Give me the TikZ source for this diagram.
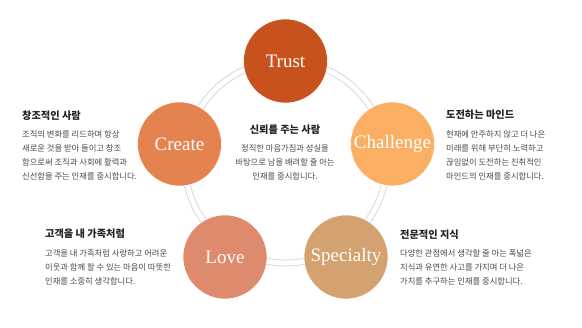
\documentclass[tikz,border=0pt]{standalone}
\usepackage{fontspec}
\usepackage{tikz}
\setmainfont{Liberation Serif}
\newfontfamily\kor{Noto Sans CJK KR}
\definecolor{ring}{RGB}{218, 218, 218}
\definecolor{trust}{RGB}{200, 82, 30}
\definecolor{create}{RGB}{228, 130, 80}
\definecolor{challenge}{RGB}{251, 175, 100}
\definecolor{love}{RGB}{221, 139, 108}
\definecolor{special}{RGB}{212, 162, 112}
\definecolor{head}{RGB}{34, 34, 34}
\definecolor{body}{RGB}{72, 72, 72}

\begin{document}
\begin{tikzpicture}[x=1pt, y=-1pt,
   valcirc/.style={circle, draw=white, line width=0.6, text=white,
                   inner sep=0, minimum size=84, font=\fontsize{19}{20}\selectfont},
   headtxt/.style={text=head, inner sep=0, font=\kor\bfseries\fontsize{10.2}{12}\selectfont},
   bodytxt/.style={text=body, inner sep=0, align=left, font=\kor\fontsize{8.3}{14}\selectfont}
  ]
  \useasboundingbox (0, 0) rectangle (582, 328);

  % rings behind the values
  \coordinate (M) at (285.7, 162);
  \foreach \R in {98, 104} {
    \draw[ring, line width=0.9] (M) circle (\R);
  }

  \node (V1) at (285.5, 61) [valcirc, fill=trust] {Trust};
  \node (V2) at (179.5, 144) [valcirc, fill=create] {Create};
  \node (V3) at (392.5, 144) [valcirc, fill=challenge] {Challenge};
  \node (V4) at (225, 257) [valcirc, fill=love] {Love};
  \node (V5) at (346, 257) [valcirc, fill=special] {Specialty};

  % texts
  \node (H1) at (22, 116) [headtxt, anchor=west] {창조적인 사람};
  \node (T1) at (22, 130) [bodytxt, anchor=north west]
    {조직의 변화를 리드하며 항상\\새로운 것을 받아 들이고 창조\\함으로써 조직과 사회에 활력과\\신선함을 주는 인재를 중시합니다.};

  \node (H2) at (446, 115) [headtxt, anchor=west] {도전하는 마인드};
  \node (T2) at (446, 130) [bodytxt, anchor=north west]
    {현재에 안주하지 않고 더 나은\\미래를 위해 부단히 노력하고\\끊임없이 도전하는 진취적인\\마인드의 인재를 중시합니다.};

  \node (H3) at (45, 234) [headtxt, anchor=west] {고객을 내 가족처럼};
  \node (T3) at (45, 249) [bodytxt, anchor=north west]
    {고객을 내 가족처럼 사랑하고 어려운\\이웃과 함께 할 수 있는 마음이 따뜻한\\인재를 소중히 생각합니다.};

  \node (H4) at (400, 235) [headtxt, anchor=west] {전문적인 지식};
  \node (T4) at (400, 249) [bodytxt, anchor=north west]
    {다양한 관점에서 생각할 줄 아는 폭넓은\\지식과 유연한 사고를 가지며 더 나은\\가치를 추구하는 인재를 중시합니다.};

  \node (H5) at (285, 130) [headtxt] {신뢰를 주는 사람};
  \node (T5) at (285, 144) [bodytxt, align=center, anchor=north]
    {정직한 마음가짐과 성실을\\바탕으로 남을 배려할 줄 아는\\인재를 중시합니다.};

\end{tikzpicture}
\end{document}
